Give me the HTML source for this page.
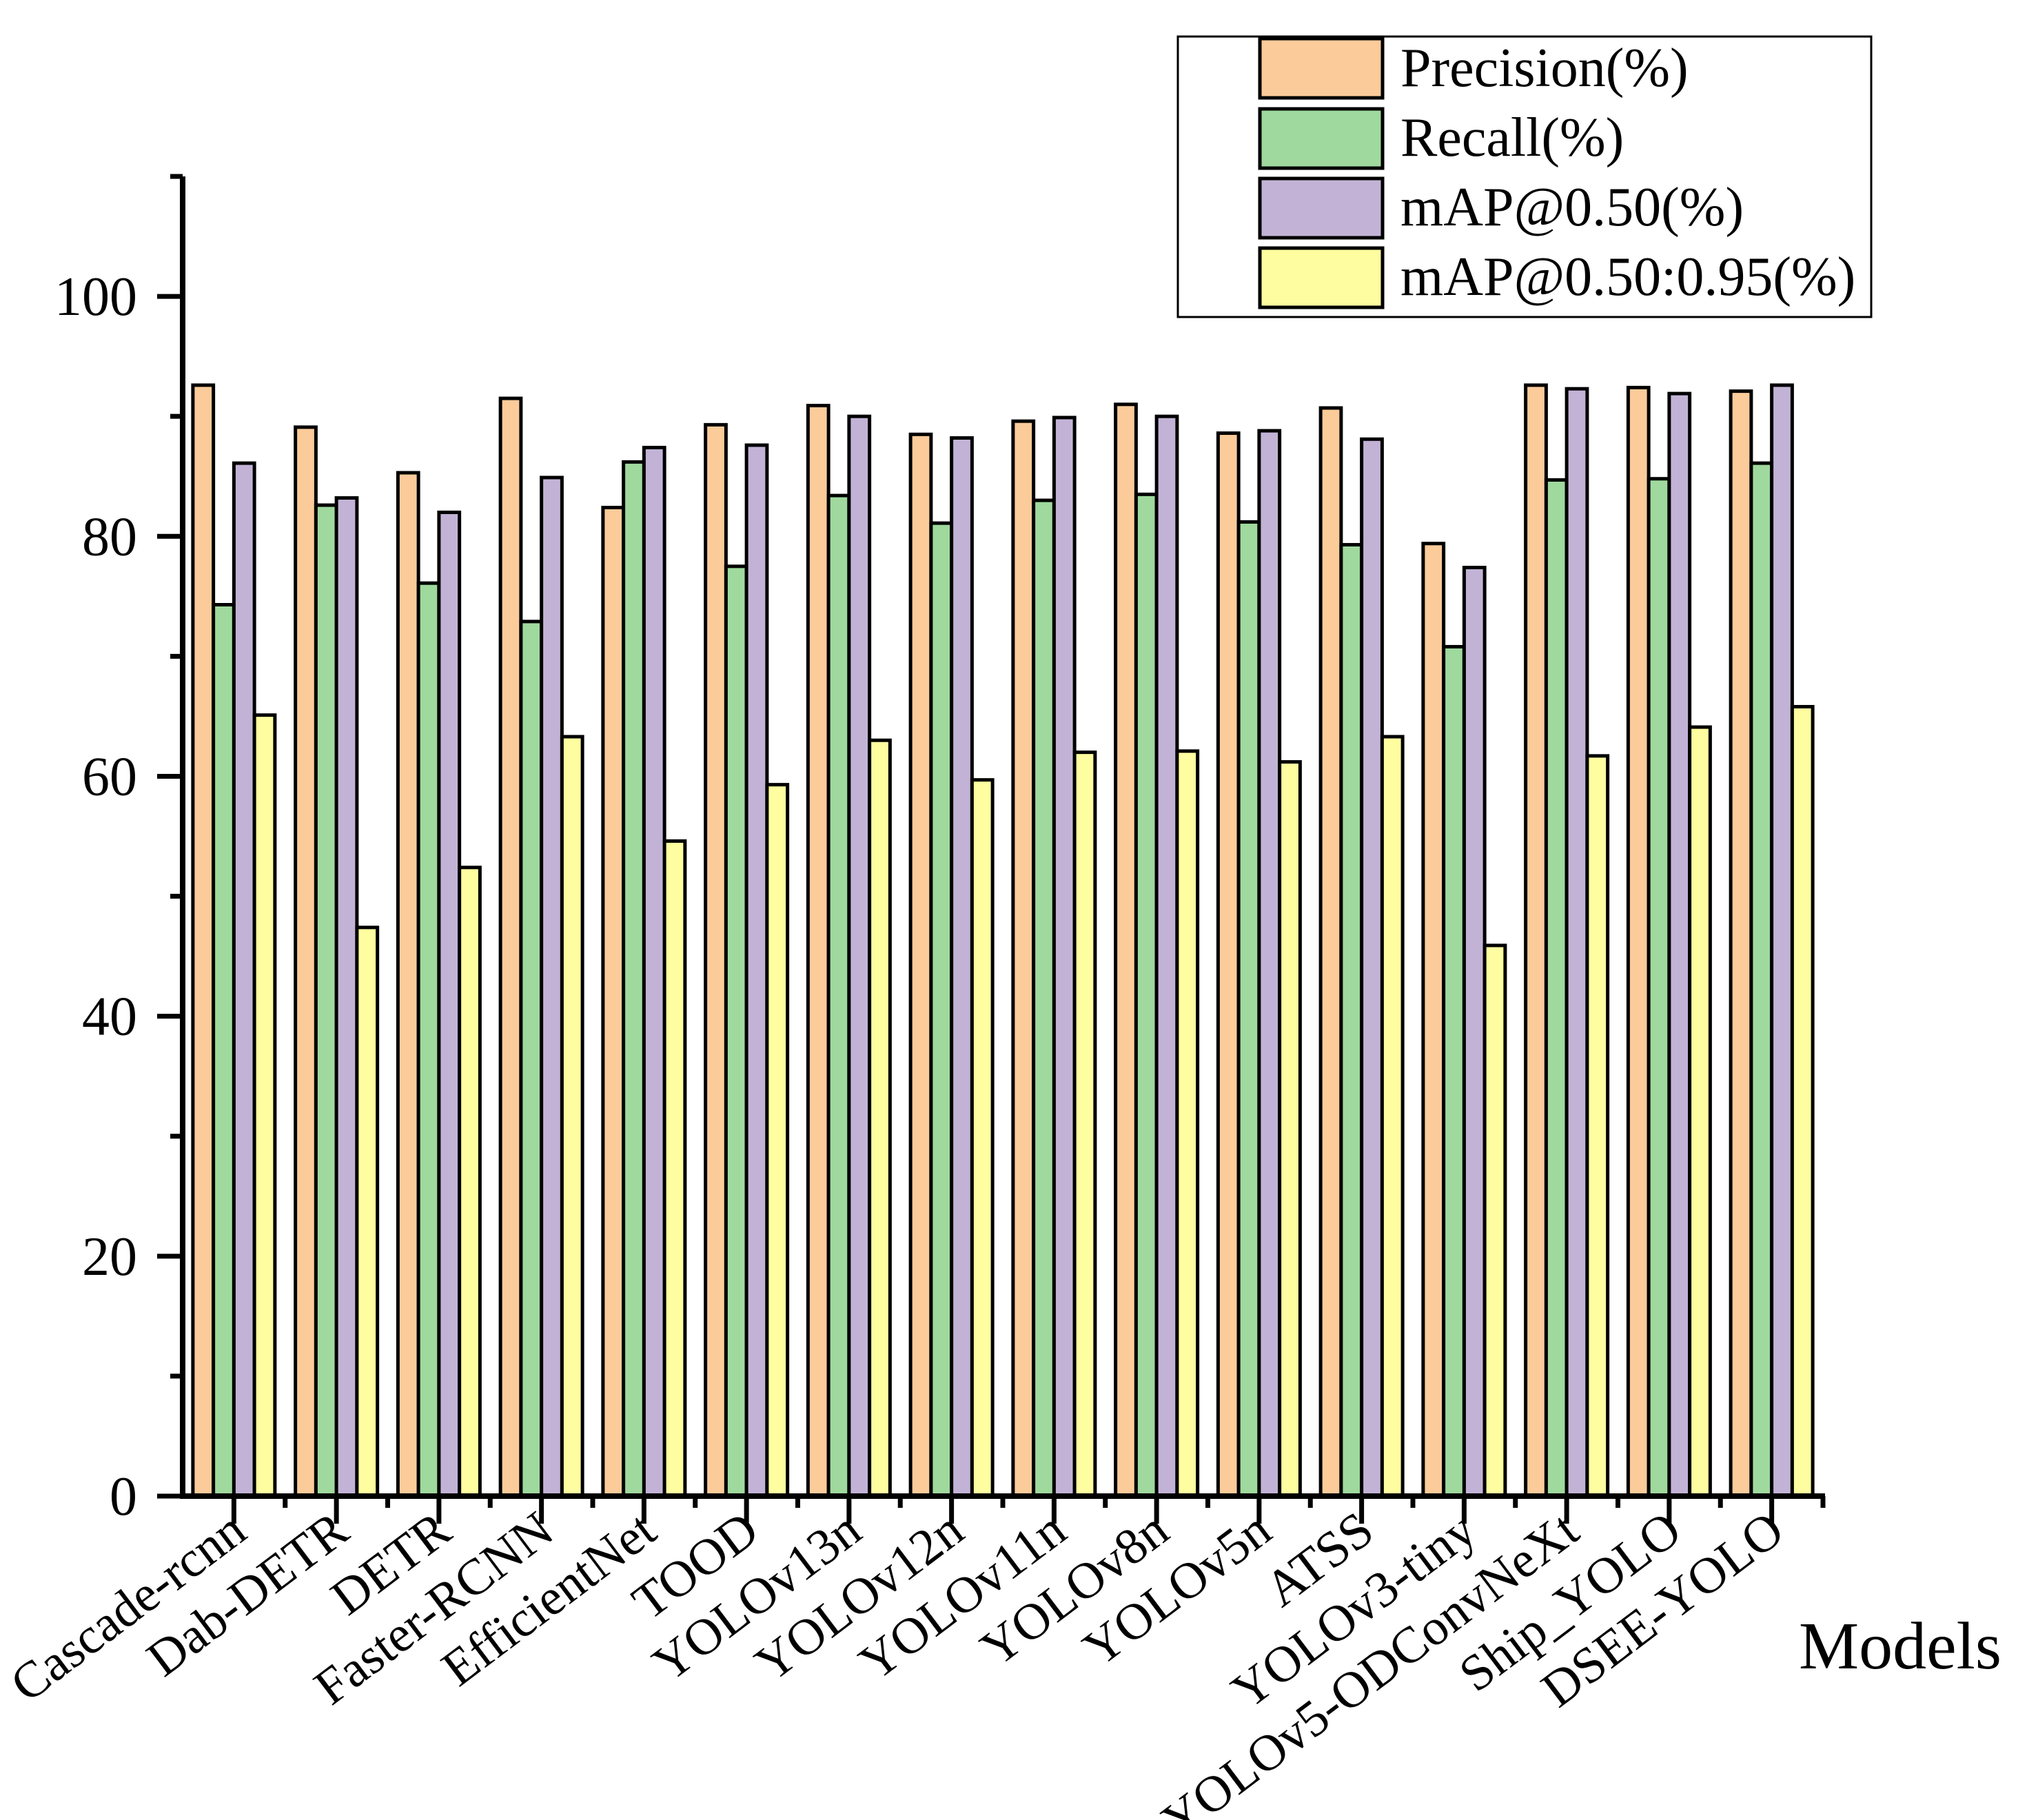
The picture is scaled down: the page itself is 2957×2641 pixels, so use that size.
<!DOCTYPE html>
<html><head><meta charset="utf-8"><style>html,body{margin:0;padding:0;background:#fff}svg{display:block}text{font-family:"Liberation Serif",serif;fill:#000}</style></head>
<body>
<svg id="chart" width="2957" height="2641" viewBox="0 0 2957 2641" xmlns="http://www.w3.org/2000/svg">
<g id="bars"></g>
<g id="axes"></g>
<g>
<rect x="1709" y="53" width="1006" height="407" fill="#fff" stroke="#000" stroke-width="3"/>
<g><rect x="1828" y="56" width="178" height="86" fill="#FBCB9A" stroke="#000" stroke-width="5"/><text x="2032" y="125" font-size="80">Precision(%)</text></g>
<g><rect x="1828" y="158" width="178" height="86" fill="#9FD99D" stroke="#000" stroke-width="5"/><text x="2032" y="226" font-size="80">Recall(%)</text></g>
<g><rect x="1828" y="259" width="178" height="86" fill="#C2B3D6" stroke="#000" stroke-width="5"/><text x="2032" y="327" font-size="80">mAP@0.50(%)</text></g>
<g><rect x="1828" y="360" width="178" height="86" fill="#FEFEA0" stroke="#000" stroke-width="5"/><text x="2032" y="428" font-size="80">mAP@0.50:0.95(%)</text></g>
</g>
<text x="2610" y="2421" font-size="98">Models</text>
</svg>
<script>
const categories = ["Cascade-rcnn","Dab-DETR","DETR","Faster-RCNN","EfficientNet","TOOD","YOLOv13n","YOLOv12n","YOLOv11n","YOLOv8n","YOLOv5n","ATSS","YOLOv3-tiny","YOLOv5-ODConvNeXt","Ship_YOLO","DSEE-YOLO"];
const precision = [92.6,89.1,85.3,91.5,82.4,89.3,90.9,88.5,89.6,91.0,88.6,90.7,79.4,92.6,92.4,92.1];
const recall = [74.3,82.6,76.1,72.9,86.2,77.5,83.4,81.1,83.0,83.5,81.2,79.3,70.8,84.7,84.8,86.1];
const map50 = [86.1,83.2,82.0,84.9,87.4,87.6,90.0,88.2,89.9,90.0,88.8,88.1,77.4,92.3,91.9,92.6];
const map5095 = [65.1,47.4,52.4,63.3,54.6,59.3,63.0,59.7,62.0,62.1,61.2,63.3,45.9,61.7,64.1,65.8];
const yTicks = [0,20,40,60,80,100];
const yMinorTicks = [10,30,50,70,90,110];

const NS="http://www.w3.org/2000/svg";
const X0=265, X1=2645, Y0=2171, YMAX=110, YTOP=256;
const gw=(X1-X0)/categories.length;
function y(v){return Y0-(v/YMAX)*(Y0-YTOP);}
function xc(i){return X0+gw*(i+0.5);}
function mk(tag,attrs,parent){const e=document.createElementNS(NS,tag);for(const k in attrs)e.setAttribute(k,attrs[k]);parent.appendChild(e);return e;}
const bars=document.getElementById('bars'), axes=document.getElementById('axes');
const series=[[precision,"#FBCB9A","precision"],[recall,"#9FD99D","recall"],[map50,"#C2B3D6","map50"],[map5095,"#FEFEA0","map5095"]];
const bw=gw*0.2;
categories.forEach((c,i)=>{
  series.forEach((s,j)=>{
    const v=s[0][i];
    const r=mk('rect',{x:xc(i)-2*bw+j*bw,y:y(v),width:bw,height:Y0-y(v),fill:s[1],stroke:'#000','stroke-width':5},bars);
    
    
  });
  const t=mk('line',{x1:xc(i),x2:xc(i),y1:Y0,y2:Y0+40,stroke:'#000','stroke-width':7},axes);
  
  
  const m=mk('line',{x1:X0+gw*(i+1),x2:X0+gw*(i+1),y1:Y0,y2:Y0+17,stroke:'#000','stroke-width':7},axes);
  
  
  const ax=xc(i)+22, ay=2230;
  const lb=mk('text',{x:ax,y:ay,'font-size':74,'text-anchor':'end',transform:`rotate(-37 ${ax} ${ay})`},axes);
  lb.textContent=c;
  
  
});
yTicks.forEach(v=>{
  const t=mk('line',{x1:X0-37,x2:X0,y1:y(v),y2:y(v),stroke:'#000','stroke-width':7},axes);
  
  
  const l=mk('text',{x:199,y:y(v)+27,'font-size':80,'text-anchor':'end'},axes);
  l.textContent=v;
  
  
});
yMinorTicks.forEach(v=>{
  const t=mk('line',{x1:X0-18,x2:X0,y1:y(v),y2:y(v),stroke:'#000','stroke-width':7},axes);
  
  
});
const ya=mk('line',{x1:X0,x2:X0,y1:YTOP,y2:Y0+3,stroke:'#000','stroke-width':8},axes);


const xa=mk('line',{x1:X0-4,x2:X1+3,y1:Y0,y2:Y0,stroke:'#000','stroke-width':8},axes);


</script>
</body></html>
